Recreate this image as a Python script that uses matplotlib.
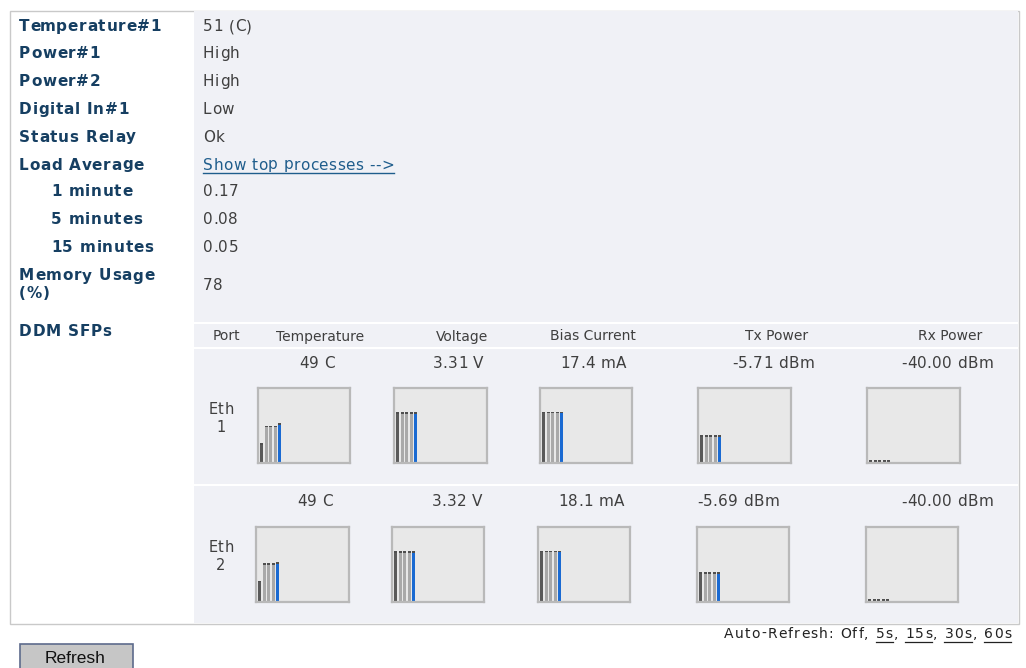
import numpy as np
import matplotlib
matplotlib.use("Agg")
import matplotlib.pyplot as plt
from matplotlib.patches import Rectangle
from matplotlib.font_manager import FontProperties

W, H = 1026, 668

# ---- data ----
status_labels = ["Temperature#1", "Power#1", "Power#2", "Digital In#1", "Status Relay",
                 "Load Average", "1 minute", "5 minutes", "15 minutes"]
status_values = ["51 (C)", "High", "High", "Low", "Ok",
                 "Show top processes -->", "0.17", "0.08", "0.05"]
memory_usage = "78"

ddm_headers = ["Port", "Temperature", "Voltage", "Bias Current", "Tx Power", "Rx Power"]
ports = [("Eth", "1"), ("Eth", "2")]
ddm_readings = [
    ["49 C", "3.31 V", "17.4 mA", "-5.71 dBm", "-40.00 dBm"],
    ["49 C", "3.32 V", "18.1 mA", "-5.69 dBm", "-40.00 dBm"],
]
# bar heights (% of gauge height): min, 3 thresholds, current value
gauge_levels = [
    [[25, 49, 49, 49, 52], [67, 67, 67, 67, 67], [68, 68, 68, 68, 68],
     [36, 36, 36, 36, 36], [0, 0, 0, 0, 0]],
    [[27, 51, 51, 51, 52], [67, 67, 67, 67, 67], [68, 68, 68, 68, 68],
     [39, 39, 39, 39, 39], [0, 0, 0, 0, 0]],
]
refresh_opts = ["5s", "15s", "30s", "60s"]

# ---- style ----
LABEL_C = "#163f62"
VALUE_C = "#3f3f3f"
LINK_C = "#1f5d8c"
PANEL_C = "#f0f1f6"
BAR_COLORS = ["#5a5a5a", "#a9a9a9", "#a9a9a9", "#a9a9a9", "#1a6ad2"]
CAP_C = "#4f4f4f"

fig = plt.figure(figsize=(W / 100, H / 100), dpi=100)
bg = fig.add_axes([0, 0, 1, 1])
bg.set_xlim(0, W)
bg.set_ylim(H, 0)
bg.axis("off")
renderer = fig.canvas.get_renderer()


def text_w(s, fp):
    w, h, d = renderer.get_text_width_height_descent(s, fp, ismath=False)
    return w


def spaced(x, y, s, sp, size, weight="normal", color=VALUE_C, ha="left",
           family="DejaVu Sans"):
    """Draw text with a little extra letter spacing, return (x0, x1)."""
    fp = FontProperties(family=family, size=size, weight=weight)
    total = text_w(s, fp) + sp * (len(s) - 1)
    if ha == "center":
        x = x - total / 2
    elif ha == "right":
        x = x - total
    if sp == 0:
        bg.text(x, y, s, fontproperties=fp, color=color, va="center", ha="left")
        return x, x + total
    bar = text_w("|", fp)
    offs = [text_w(s[:k] + "|", fp) - bar for k in range(len(s))]
    for k, ch in enumerate(s):
        if ch != " ":
            bg.text(x + offs[k] + k * sp, y, ch, fontproperties=fp, color=color,
                    va="center", ha="left")
    return x, x + total


# outer box and value column
bg.add_patch(Rectangle((9.5, 10.5), 1009, 613, fc="white", ec="#c9c9c9", lw=1))
bg.add_patch(Rectangle((194, 11), 824, 612, fc=PANEL_C, ec="none"))
# separators in the DDM table
for yy in (323, 348, 485):
    bg.add_patch(Rectangle((194, yy - 1), 824, 2, fc="white", ec="none"))

LAB_SZ, LAB_SP = 11.0, 0.75
VAL_SZ, VAL_SP = 11.0, 0.45

row_y = [26.5, 53.5, 81.5, 109.5, 137, 165, 192, 220, 248]
for i, (lab, val) in enumerate(zip(status_labels, status_values)):
    x = 51 if "minute" in lab else 19
    spaced(x, row_y[i], lab, LAB_SP, LAB_SZ, weight="bold", color=LABEL_C)
    if val.startswith("Show"):
        a, b = spaced(203, row_y[i], val, VAL_SP, VAL_SZ, color=LINK_C)
        bg.plot([a, b], [172.5, 172.5], color=LINK_C, lw=1)
    else:
        spaced(203, row_y[i], val, VAL_SP, VAL_SZ)

spaced(19, 276, "Memory Usage", LAB_SP, LAB_SZ, weight="bold", color=LABEL_C)
spaced(19, 293.5, "(%)", LAB_SP, LAB_SZ, weight="bold", color=LABEL_C)
spaced(203, 285, memory_usage, VAL_SP, VAL_SZ)
spaced(19, 331, "DDM SFPs", LAB_SP, LAB_SZ, weight="bold", color=LABEL_C)

# DDM table header
hdr_x = [226, 320, 462, 593, 777, 950]
for hx, h in zip(hdr_x, ddm_headers):
    spaced(hx, 336.5, h, 0, 10.0, ha="center")

reading_x = [[317, 458, 593, 773, 947], [315, 457, 591, 738, 947]]
reading_y = [363, 502]
port_y = [410, 548]
box_x = [[(258, 350), (394, 487), (540, 632), (698, 791), (867, 960)],
         [(256, 349), (392, 484), (538, 630), (697, 789), (866, 958)]]
box_y = [(388, 463), (527, 602)]

for r in range(2):
    spaced(221, port_y[r], ports[r][0], 0.5, 10.5, ha="center")
    spaced(221, port_y[r] + 18, ports[r][1], 0.5, 10.5, ha="center")
    for c in range(5):
        spaced(reading_x[r][c], reading_y[r], ddm_readings[r][c], 0.35, 11.0, ha="center")
        x0, x1 = box_x[r][c]
        y0, y1 = box_y[r]
        ax = fig.add_axes([x0 / W, 1 - y1 / H, (x1 - x0) / W, (y1 - y0) / H])
        ax.set_facecolor("#e8e8e8")
        for s in ax.spines.values():
            s.set_color("#b9b9b9")
            s.set_linewidth(1.6)
        ax.set_xticks([])
        ax.set_yticks([])
        lv = np.array(gauge_levels[r][c], dtype=float)
        idx = np.arange(len(lv))
        ax.bar(idx, lv, width=0.66, color=BAR_COLORS, align="center")
        ax.bar(idx, 2.0, bottom=np.maximum(lv - 2.0, 0), width=0.66, color=CAP_C)
        ax.set_xlim(-0.8, 19.6)
        ax.set_ylim(-1.5, 100)

# auto refresh line, right-aligned with underlined links
pieces = [("Auto-Refresh: Off, ", False)]
for k, o in enumerate(refresh_opts):
    pieces.append((o, True))
    if k < len(refresh_opts) - 1:
        pieces.append((", ", False))
AR_SZ, AR_SP = 10.0, 1.2
fp_ar = FontProperties(family="DejaVu Sans", size=AR_SZ)
full = "".join(p for p, _ in pieces)
bar_w = text_w("|", fp_ar)
total = text_w(full, fp_ar) + AR_SP * (len(full) - 1)
start = 1011 - total
pos = 0
for p, ul in pieces:
    px = start + text_w(full[:pos] + "|", fp_ar) - bar_w + pos * AR_SP
    a, b = spaced(px, 634, p, AR_SP, AR_SZ, color="#222222")
    if ul:
        bg.plot([a, b], [641.5, 641.5], color="#222222", lw=0.9)
    pos += len(p)

# refresh button
bg.add_patch(Rectangle((19.5, 643.5), 113, 30, fc="#c6c6c6", ec="#5d6b8c", lw=1.2))
bg.text(75, 658.5, "Refresh", fontsize=12.5, color="#111111", ha="center", va="center",
        family="Liberation Sans")

fig.savefig("out.png", dpi=100)
